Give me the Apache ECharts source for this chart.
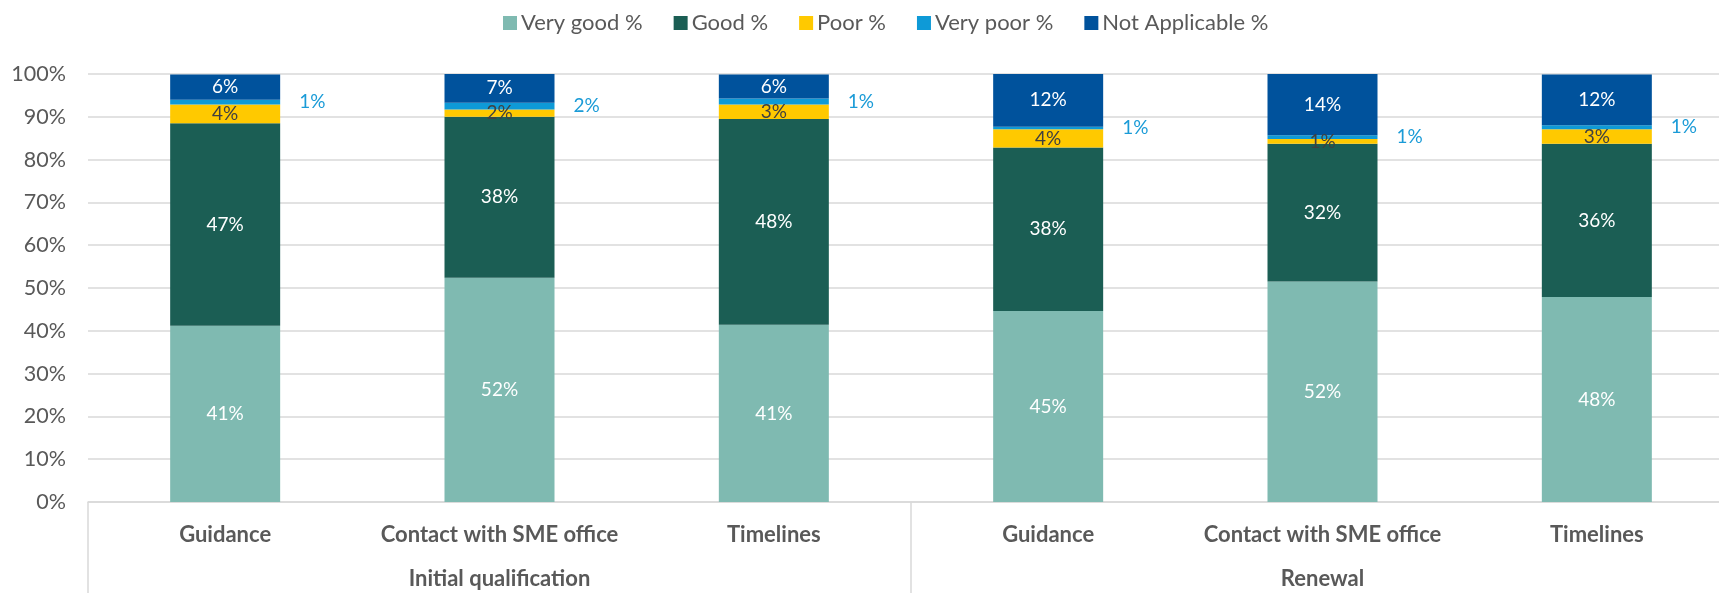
<!DOCTYPE html>
<html>
<head>
<meta charset="utf-8">
<script src="https://cdn.jsdelivr.net/npm/echarts@6/dist/echarts.min.js"></script>
<style>
  html, body { margin: 0; padding: 0; background: #fff; }
  #chart { width: 1719px; height: 593px; }
</style>
</head>
<body>
<div id="chart"></div>
<script>
const categories = ['Guidance', 'Contact with SME office', 'Timelines', 'Guidance', 'Contact with SME office', 'Timelines']
const groups = ['Initial qualification', 'Renewal']
const veryGood = [41.2, 52.4, 41.4, 44.6, 51.5, 47.9]
const good = [47.3, 37.6, 48.1, 38.2, 32.2, 35.8]
const poor = [4.4, 1.7, 3.4, 4.3, 1.1, 3.4]
const veryPoor = [1.1, 1.6, 1.4, 0.6, 0.9, 0.9]
const notApplicable = [5.9, 6.8, 5.6, 12.4, 14.3, 11.9]
const yTicks = [0, 10, 20, 30, 40, 50, 60, 70, 80, 90, 100]

const FONT = 'Lato, "Open Sans", sans-serif'
const pct = p => Math.round(p.value) + '%'

function barSeries(name, data, color, label) {
  return {
    name,
    type: 'bar',
    stack: 'total',
    barWidth: 110,
    data,
    itemStyle: { color },
    label: Object.assign({ show: true, formatter: pct, fontFamily: FONT, fontSize: 19 }, label),
    emphasis: { disabled: true }
  }
}

const chart = echarts.init(document.getElementById('chart'), null, { renderer: 'canvas' })
chart.setOption({
  animation: false,
  legend: {
    top: 7,
    left: 498,
    itemWidth: 14,
    itemHeight: 14,
    itemGap: 31,
    icon: 'rect',
    textStyle: { color: '#595959', fontSize: 22, fontFamily: FONT, padding: [0, 0, 0, -1] },
    data: ['Very good %', 'Good %', 'Poor %', 'Very poor %', 'Not Applicable %']
  },
  // plot area runs past the right edge, as in the source
  grid: { left: 88, width: 1646, top: 74, bottom: 91, containLabel: false, outerBoundsMode: 'none' },
  xAxis: [
    {
      type: 'category',
      data: categories,
      position: 'bottom',
      axisLine: { lineStyle: { color: '#d9d9d9', width: 1.5 } },
      axisTick: { show: false },
      axisLabel: { color: '#595959', fontSize: 22, fontWeight: 'bold', fontFamily: FONT, margin: 22, interval: 0 }
    },
    {
      type: 'category',
      data: groups,
      position: 'bottom',
      axisLine: { show: false },
      axisTick: { show: true, length: 92, lineStyle: { color: '#d9d9d9', width: 1.5 } },
      axisLabel: { color: '#595959', fontSize: 22, fontWeight: 'bold', fontFamily: FONT, margin: 66, interval: 0 }
    }
  ],
  yAxis: {
    type: 'value',
    min: yTicks[0],
    max: yTicks[yTicks.length - 1],
    interval: yTicks[1] - yTicks[0],
    axisLine: { show: false },
    axisTick: { show: false },
    axisLabel: { color: '#595959', fontSize: 21.5, fontFamily: FONT, margin: 22, formatter: '{value}%' },
    splitLine: { lineStyle: { color: '#d9d9d9', width: 1.5 } }
  },
  series: [
    barSeries('Very good %', veryGood, '#7fbab1', { position: 'inside', color: '#ffffff' }),
    barSeries('Good %', good, '#1b5e54', { position: 'inside', color: '#ffffff' }),
    barSeries('Poor %', poor, '#ffc900', { position: 'inside', color: '#404040' }),
    barSeries('Very poor %', veryPoor, '#0e9ad7', { position: 'right', distance: 19, color: '#1a9bd7' }),
    barSeries('Not Applicable %', notApplicable, '#00529c', { position: 'inside', color: '#ffffff' })
  ]
})
</script>
</body>
</html>
